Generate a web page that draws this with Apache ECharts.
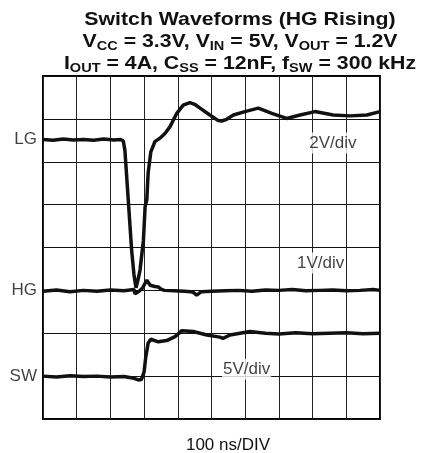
<!DOCTYPE html>
<html>
<head>
<meta charset="utf-8">
<script src="https://cdn.jsdelivr.net/npm/echarts@6/dist/echarts.min.js"></script>
<style>
html,body{margin:0;padding:0;background:#fff;}
#chart{width:427px;height:453px;}
</style>
</head>
<body>
<div id="chart"></div>
<script>
// time in divisions (100 ns/DIV), level in vertical divisions
const lgTime = [0, 0.3, 0.6, 0.9, 1.2, 1.5, 1.8, 2.1, 2.3, 2.38, 2.43, 2.53, 2.63, 2.70, 2.76, 2.82, 2.88, 2.98, 3.03, 3.08, 3.12, 3.20, 3.32, 3.47, 3.62, 3.77, 3.97, 4.16, 4.36, 4.50, 4.66, 4.95, 5.20, 5.30, 5.45, 5.65, 5.99, 6.39, 6.79, 7.23, 7.63, 8.07, 8.61, 9.11, 9.61, 10];
const lgLevel = [6.52, 6.50, 6.53, 6.51, 6.52, 6.50, 6.53, 6.51, 6.52, 6.49, 6.27, 5.11, 3.94, 3.36, 3.06, 3.25, 3.48, 4.17, 4.95, 5.11, 5.74, 6.23, 6.47, 6.55, 6.66, 6.82, 7.13, 7.32, 7.38, 7.34, 7.25, 7.09, 6.96, 6.95, 6.99, 7.09, 7.17, 7.25, 7.13, 7.01, 7.09, 7.17, 7.09, 7.07, 7.09, 7.17];

const hgTime = [0, 0.4, 0.8, 1.2, 1.6, 2.0, 2.4, 2.7, 2.73, 2.85, 2.95, 3.08, 3.18, 3.32, 3.42, 3.50, 3.60, 3.9, 4.2, 4.45, 4.56, 4.7, 5.0, 5.4, 5.8, 6.2, 6.6, 7.0, 7.4, 7.8, 8.2, 8.6, 9.0, 9.4, 9.8, 10];
const hgLevel = [2.98, 3.01, 2.97, 3.00, 2.98, 3.01, 2.99, 3.02, 2.92, 2.98, 3.05, 3.24, 3.12, 3.09, 3.08, 3.03, 3.00, 2.99, 2.98, 2.96, 2.89, 2.97, 2.98, 2.99, 3.00, 2.98, 3.01, 3.00, 3.02, 2.99, 3.00, 3.01, 2.99, 3.00, 3.02, 3.00];

const swTime = [0, 0.4, 0.8, 1.2, 1.6, 2.0, 2.4, 2.7, 2.83, 2.92, 3.0, 3.05, 3.12, 3.20, 3.42, 3.67, 3.92, 4.12, 4.46, 4.86, 5.25, 5.34, 5.55, 6.14, 6.6, 7.0, 7.5, 8.0, 8.5, 9.0, 9.5, 10];
const swLevel = [1.00, 0.98, 1.01, 0.99, 1.00, 0.98, 0.99, 0.95, 0.91, 0.92, 1.10, 1.45, 1.77, 1.86, 1.80, 1.83, 1.92, 2.06, 2.04, 1.96, 1.91, 1.88, 1.96, 2.04, 2.00, 1.98, 2.01, 1.99, 2.00, 2.01, 1.99, 2.00];

const sigNames = ['LG', 'HG', 'SW'];
const sigLevels = [6.52, 3.0, 1.0];

const scaleTexts = ['2V/div', '1V/div', '5V/div'];
const scaleTime = [8.6, 8.24, 6.04];
const scaleLevel = [6.44, 3.64, 1.16];

const xLabel = '100 ns/DIV';

const FONT = '"Liberation Sans", Arial, Helvetica, sans-serif';
const zip = (a, b) => a.map((v, i) => [v, b[i]]);

const traceStyle = { color: '#111', width: 3.5 };

const chart = echarts.init(document.getElementById('chart'), null, { renderer: 'canvas' });
chart.setOption({
  animation: false,
  backgroundColor: '#fff',
  grid: { left: 43, right: 47, top: 76, bottom: 34, show: true, borderColor: '#000', borderWidth: 2, backgroundColor: 'transparent' },
  xAxis: {
    type: 'value', min: 0, max: 10, interval: 1,
    axisLine: { show: false }, axisTick: { show: false }, axisLabel: { show: false },
    splitLine: { show: true, lineStyle: { color: '#222', width: 1 } }
  },
  yAxis: {
    type: 'value', min: 0, max: 8, interval: 1,
    axisLine: { show: false }, axisTick: { show: false }, axisLabel: { show: false },
    splitLine: { show: true, lineStyle: { color: '#111', width: 1 } }
  },
  graphic: [
    {
      type: 'text', x: 240, y: 9, z: 100, scaleX: 1.12,
      style: {
        text: '{b|Switch Waveforms (HG Rising)}\n' +
              '{b|V}{s|CC}{b| = 3.3V, V}{s|IN}{b| = 5V, V}{s|OUT}{b| = 1.2V}\n' +
              '{b|I}{s|OUT}{b| = 4A, C}{s|SS}{b| = 12nF, f}{s|SW}{b| = 300 kHz}',
        align: 'center', verticalAlign: 'top',
        rich: {
          b: { fontFamily: FONT, fontWeight: 'bold', fontSize: 19, lineHeight: 22, fill: '#111', color: '#111' },
          s: { fontFamily: FONT, fontWeight: 'bold', fontSize: 13, lineHeight: 10, verticalAlign: 'bottom', fill: '#111', color: '#111' }
        }
      }
    },
    {
      type: 'text', x: 228, y: 445, z: 100,
      style: { text: xLabel, align: 'center', verticalAlign: 'middle', font: '17px ' + FONT, fill: '#111' }
    }
  ],
  series: [
    { type: 'line', data: zip(lgTime, lgLevel), showSymbol: false, lineStyle: traceStyle, z: 5 },
    { type: 'line', data: zip(hgTime, hgLevel), showSymbol: false, lineStyle: traceStyle, z: 5 },
    { type: 'line', data: zip(swTime, swLevel), showSymbol: false, lineStyle: traceStyle, z: 5 },
    {
      type: 'scatter', symbolSize: 0, z: 6,
      data: sigNames.map((n, i) => ({ name: n, value: [0, sigLevels[i]] })),
      label: { show: true, position: 'left', distance: 6, formatter: '{b}', fontFamily: FONT, fontSize: 17, color: '#111' }
    },
    {
      type: 'scatter', symbolSize: 0, z: 6,
      data: scaleTexts.map((n, i) => ({ name: n, value: [scaleTime[i], scaleLevel[i]] })),
      label: { show: true, position: 'inside', formatter: '{b}', fontFamily: FONT, fontSize: 17, color: '#111', backgroundColor: '#fff', padding: [2, 1] }
    }
  ]
});
</script>
</body>
</html>
